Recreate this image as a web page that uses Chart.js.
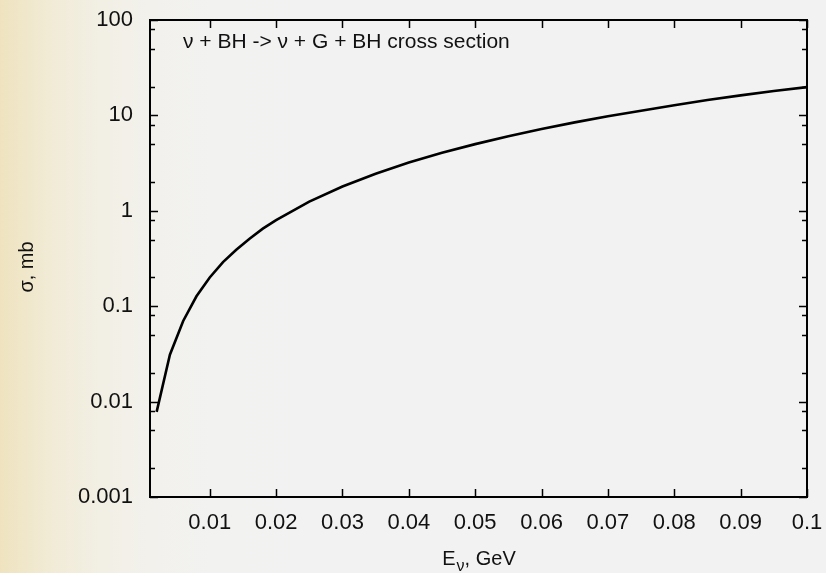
<!DOCTYPE html>
<html>
<head>
<meta charset="utf-8">
<script src="https://cdn.jsdelivr.net/npm/chart.js@4"></script>
<style>
  html, body { margin: 0; padding: 0; overflow: hidden; }
  body {
    width: 826px; height: 573px;
    background: linear-gradient(to right, #efe3bf 0%, #f1ebd6 6%, #f2efe4 12%, #f2f1ec 18%, #f2f2f1 26%, #f2f2f2 40%);
  }
  #wrap { position: relative; width: 826px; height: 573px; }
</style>
</head>
<body>
<div id="wrap"><canvas id="xsec-chart"></canvas></div>
<script>
// Cross section curve
const energies = [0.002, 0.004, 0.006, 0.008, 0.010, 0.012, 0.014, 0.016, 0.018, 0.020,
  0.025, 0.030, 0.035, 0.040, 0.045, 0.050, 0.055, 0.060, 0.065, 0.070,
  0.075, 0.080, 0.085, 0.090, 0.095, 0.100];
const sigma = [0.0078, 0.031, 0.070, 0.127, 0.20, 0.29, 0.39, 0.51, 0.65, 0.80,
  1.25, 1.8, 2.45, 3.2, 4.05, 5.0, 6.05, 7.2, 8.45, 9.8,
  11.2, 12.8, 14.5, 16.2, 18.0, 19.8];

// Axis ticks
const xTicks = [0.01, 0.02, 0.03, 0.04, 0.05, 0.06, 0.07, 0.08, 0.09, 0.1];
const xTickLabels = ['0.01', '0.02', '0.03', '0.04', '0.05', '0.06', '0.07', '0.08', '0.09', '0.1'];
const yTicks = [0.001, 0.01, 0.1, 1, 10, 100];
const yTickLabels = ['0.001', '0.01', '0.1', '1', '10', '100'];
const yMinorTicks = [0.002, 0.005, 0.008, 0.02, 0.05, 0.08, 0.2, 0.5, 0.8, 2, 5, 8, 20, 50, 80];

const FONT = '"Liberation Sans", Arial, Helvetica, sans-serif';

// keep the plot box where the layout padding puts it
const noLabelPadding = scale => {
  scale.paddingTop = 0;
  scale.paddingBottom = 0;
  scale.paddingLeft = 0;
  scale.paddingRight = 0;
};

// Frame, inward tick marks and text labels
const framePlugin = {
  id: 'frame',
  afterDatasetsDraw(chart) {
    const { ctx, chartArea: a, scales } = chart;
    const xs = scales.x, ys = scales.y;
    ctx.save();
    ctx.strokeStyle = '#000';
    ctx.lineWidth = 1.5;

    ctx.beginPath();
    xTicks.forEach(v => {
      const px = Math.round(xs.getPixelForValue(v)) + 0.5;
      ctx.moveTo(px, a.bottom); ctx.lineTo(px, a.bottom - 8);
      ctx.moveTo(px, a.top); ctx.lineTo(px, a.top + 8);
    });
    yTicks.forEach(v => {
      const py = Math.round(ys.getPixelForValue(v)) + 0.5;
      ctx.moveTo(a.left, py); ctx.lineTo(a.left + 8, py);
      ctx.moveTo(a.right, py); ctx.lineTo(a.right - 8, py);
    });
    yMinorTicks.forEach(v => {
      const py = Math.round(ys.getPixelForValue(v)) + 0.5;
      ctx.moveTo(a.left, py); ctx.lineTo(a.left + 5, py);
      ctx.moveTo(a.right, py); ctx.lineTo(a.right - 5, py);
    });
    ctx.stroke();

    ctx.lineWidth = 2;
    ctx.strokeRect(a.left, a.top, a.right - a.left, a.bottom - a.top);

    ctx.fillStyle = '#111';
    ctx.textBaseline = 'alphabetic';
    ctx.textAlign = 'left';

    // title inside the plot
    ctx.font = '21px ' + FONT;
    ctx.fillText('\u03bd + BH -> \u03bd + G + BH cross section', a.left + 33, a.top + 28);

    // x axis title with subscript
    const main = '20px ' + FONT, sub = '16px ' + FONT;
    ctx.font = main; const wE = ctx.measureText('E').width;
    ctx.font = sub; const wNu = ctx.measureText('\u03bd').width;
    ctx.font = main; const wRest = ctx.measureText(', GeV').width;
    let tx = (a.left + a.right) / 2 - (wE + wNu + wRest) / 2;
    const ty = 565;
    ctx.fillText('E', tx, ty); tx += wE + 1;
    ctx.font = sub; ctx.fillText('\u03bd', tx, ty + 6); tx += wNu;
    ctx.font = main; ctx.fillText(', GeV', tx, ty);

    // y axis title
    ctx.save();
    ctx.translate(33, 267);
    ctx.rotate(-Math.PI / 2);
    ctx.textAlign = 'center';
    ctx.fillText('\u03c3, mb', 0, 0);
    ctx.restore();

    ctx.restore();
  }
};

document.addEventListener('DOMContentLoaded', () => {
  const ctx = document.getElementById('xsec-chart').getContext('2d');
  new Chart(ctx, {
    type: 'line',
    data: {
      datasets: [{
        data: energies.map((e, i) => ({ x: e, y: sigma[i] })),
        borderColor: '#000',
        borderWidth: 2.6,
        pointRadius: 0,
        tension: 0,
        fill: false
      }]
    },
    options: {
      responsive: true,
      maintainAspectRatio: false,
      animation: false,
      layout: { padding: { left: 0, right: 19, top: 20, bottom: 0 } },
      plugins: {
        legend: { display: false },
        tooltip: { enabled: false }
      },
      scales: {
        x: {
          type: 'linear',
          min: 0.001,
          max: 0.1,
          afterBuildTicks: scale => { scale.ticks = xTicks.map(v => ({ value: v })); },
          afterFit: scale => { scale.height = 76; noLabelPadding(scale); },
          grid: { display: false, drawTicks: false },
          border: { display: false },
          ticks: {
            padding: 13,
            color: '#111',
            font: { family: FONT, size: 22 },
            maxRotation: 0,
            autoSkip: false,
            callback: (v) => xTickLabels[xTicks.findIndex(t => Math.abs(t - v) < 1e-9)] ?? ''
          }
        },
        y: {
          type: 'logarithmic',
          min: 0.001,
          max: 100,
          afterBuildTicks: scale => { scale.ticks = yTicks.map(v => ({ value: v })); },
          afterFit: scale => { scale.width = 150; noLabelPadding(scale); },
          grid: { display: false, drawTicks: false },
          border: { display: false },
          ticks: {
            padding: 17,
            color: '#111',
            font: { family: FONT, size: 22 },
            autoSkip: false,
            callback: (v) => yTickLabels[yTicks.findIndex(t => Math.abs(t - v) / t < 1e-6)] ?? ''
          }
        }
      }
    },
    plugins: [framePlugin]
  });
});
</script>
</body>
</html>
